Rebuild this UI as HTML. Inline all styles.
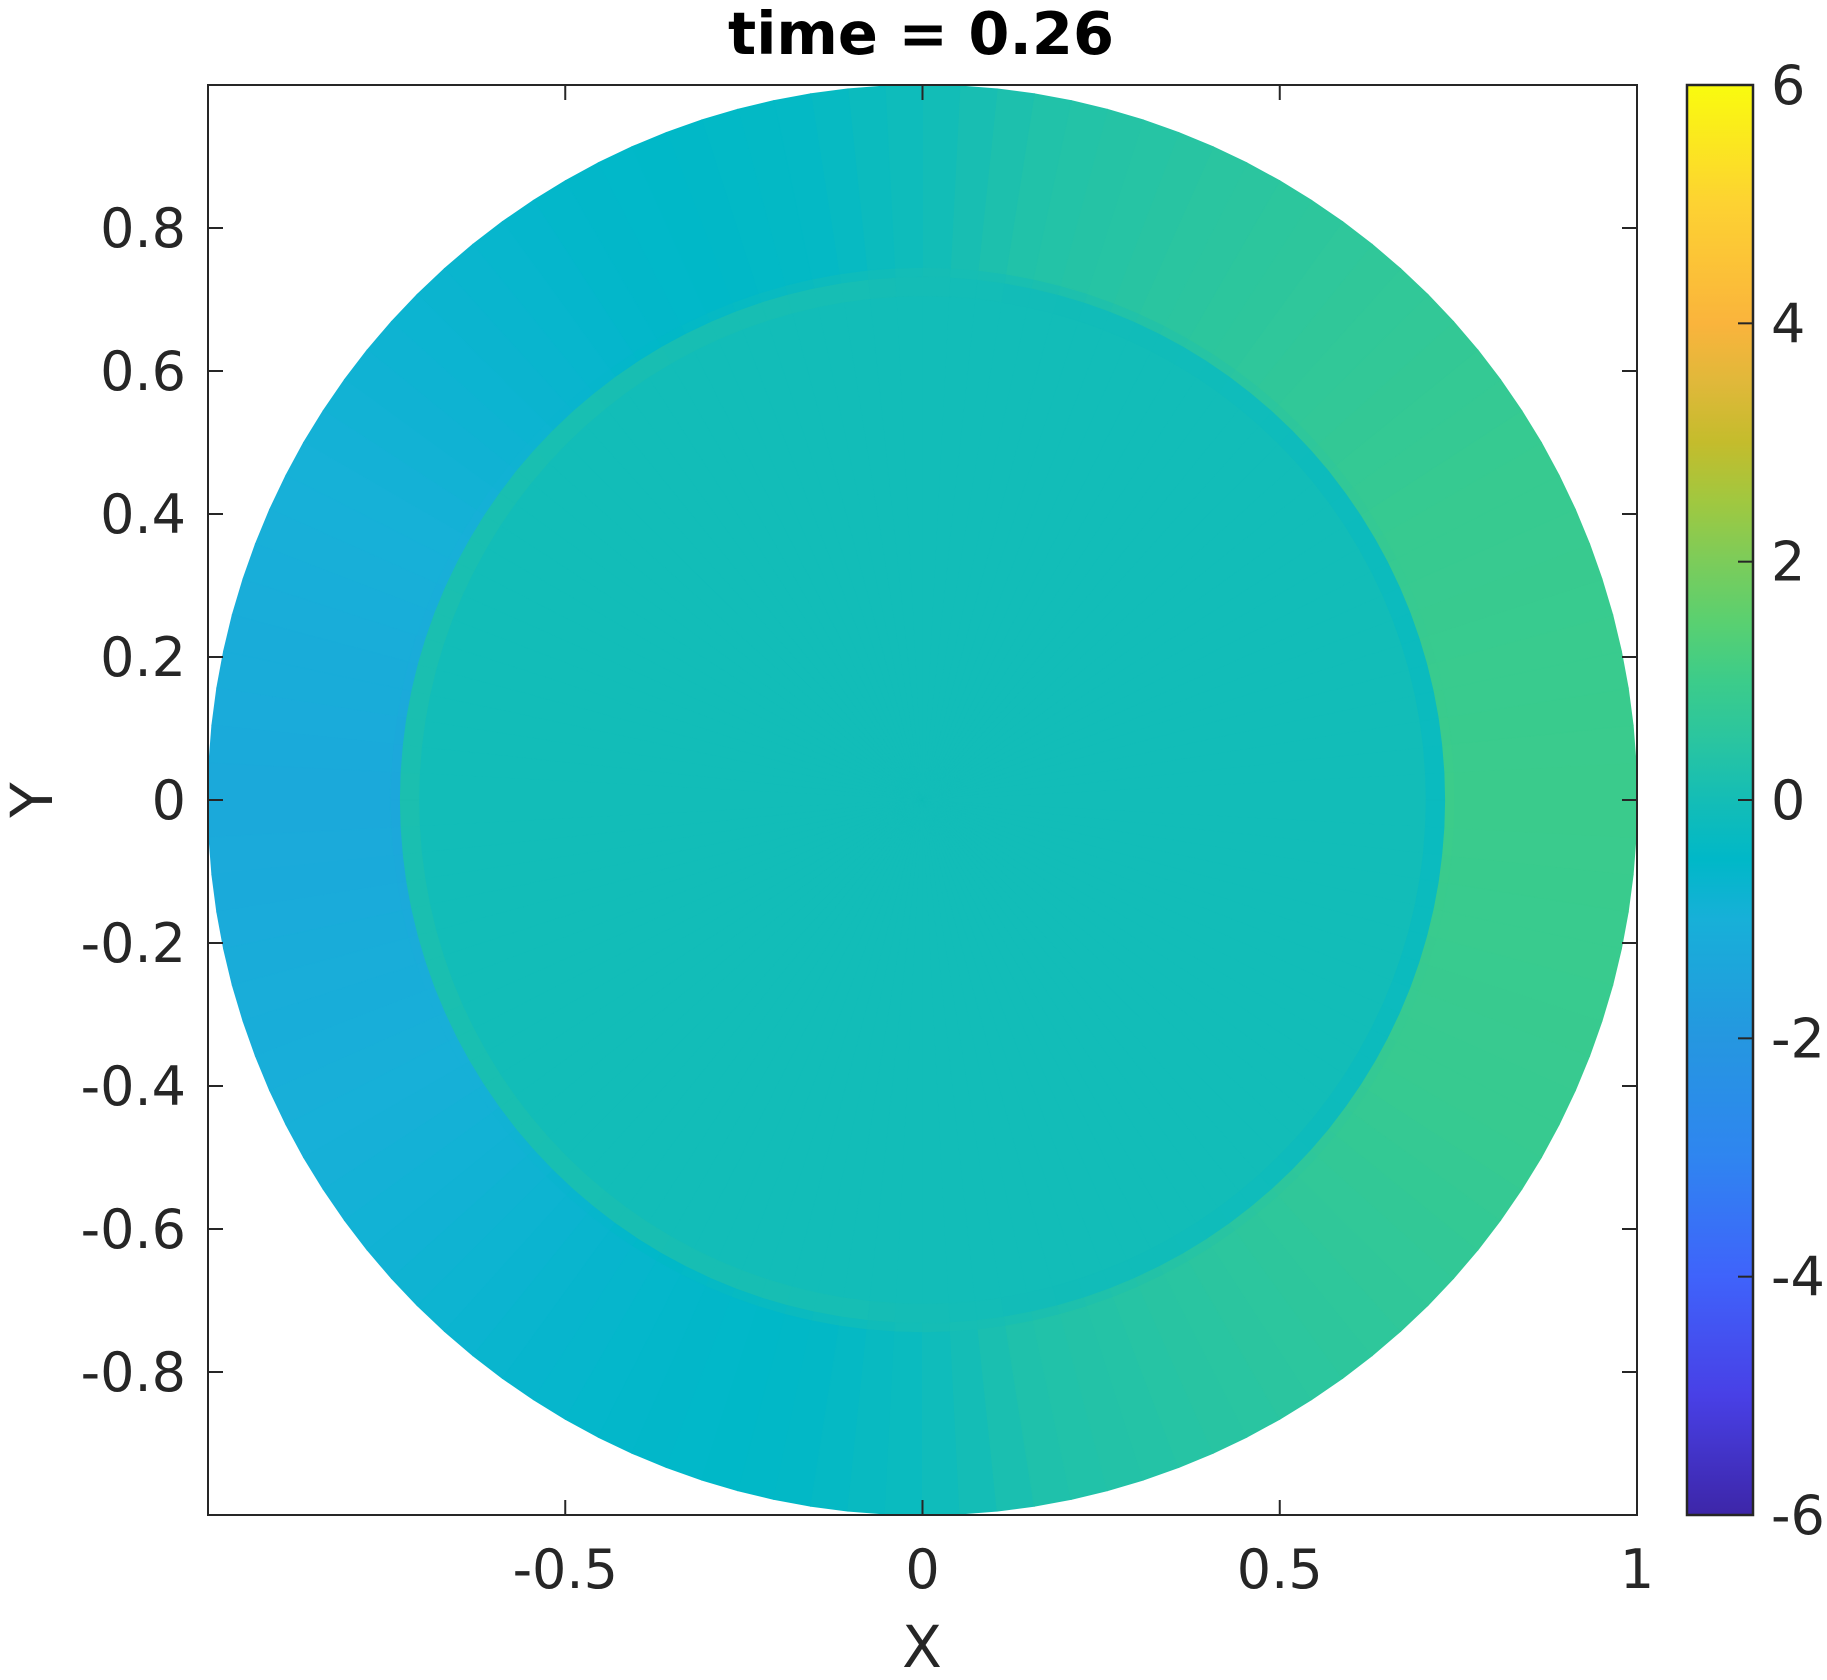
<!DOCTYPE html>
<html><head><meta charset="utf-8">
<style>
html,body{margin:0;padding:0;background:#fff;}
body{width:1827px;height:1675px;overflow:hidden;}
svg text{font-family:"DejaVu Sans","Liberation Sans",sans-serif;fill:#262626;}
</style></head>
<body>
<svg id="chart" width="1827" height="1675" viewBox="0 0 1827 1675" xmlns="http://www.w3.org/2000/svg">
<defs>
<linearGradient id="cbgrad" x1="0" y1="1" x2="0" y2="0"></linearGradient>
<clipPath id="axclip"><rect x="208" y="85" width="1429" height="1430"/></clipPath>
</defs>
<text x="921" y="54" text-anchor="middle" font-size="59" font-weight="bold" style="fill:#000">time = 0.26</text>
<g id="field" clip-path="url(#axclip)"></g>
<rect x="208" y="85" width="1429" height="1430" fill="none" stroke="#262626" stroke-width="2"/>
<g id="ticks"></g>
<text x="922" y="1667" text-anchor="middle" font-size="58">X</text>
<text x="52" y="800" text-anchor="middle" font-size="58" transform="rotate(-90 52 800)">Y</text>
<g id="colorbar"></g>
</svg>
<script>
// ---- data ----
const xTicks = [-0.5, 0, 0.5, 1];
const xTickLabels = ["-0.5", "0", "0.5", "1"];
const yTicks = [0.8, 0.6, 0.4, 0.2, 0, -0.2, -0.4, -0.6, -0.8];
const yTickLabels = ["0.8", "0.6", "0.4", "0.2", "0", "-0.2", "-0.4", "-0.6", "-0.8"];
const cbTicks = [6, 4, 2, 0, -2, -4, -6];
const cbTickLabels = ["6", "4", "2", "0", "-2", "-4", "-6"];
const cLim = [-6, 6];
// colormap (value -> colour)
const cmapVals = [-6, -5, -4, -3, -2, -1, -0.5, 0, 0.5, 1, 1.5, 2, 2.5, 3, 3.5, 4, 5, 6];
const cmapCols = ["#3d26a8","#4840e6","#3f63fb","#2f85f0","#2597e0","#17b0d8","#00b8c8","#14bdb6","#2ac5a0","#3ccc8a","#5ad070","#7ccc5a","#a0c840","#c4bc2c","#e0b83a","#fab43c","#fdd232","#f9fb0e"];
// field: angles (deg, ccw from +x) and per-band values
const angles = [0, 30, 60, 80, 90, 100, 120, 150, 180, 210, 240, 260, 270, 280, 300, 330, 360];
const outerVals = [0.95, 0.85, 0.55, 0.3, -0.1, -0.4, -0.55, -0.95, -1.3, -1.0, -0.6, -0.45, -0.2, 0.25, 0.5, 0.85, 0.95];
const edgeLineVals = [1.0, 0.8, 0.4, 0.1, 0.0, -0.2, -0.5, -1.0, -1.4, -1.0, -0.5, -0.2, 0.0, 0.1, 0.4, 0.8, 1.0];
const edgeBandVals = [-0.25, -0.2, -0.1, -0.05, 0.0, 0.05, 0.08, 0.12, 0.15, 0.12, 0.08, 0.05, 0.0, -0.05, -0.1, -0.2, -0.25];
const innerVals = [-0.05, -0.05, -0.05, -0.05, -0.05, -0.05, -0.05, -0.05, -0.05, -0.05, -0.05, -0.05, -0.05, -0.05, -0.05, -0.05, -0.05];
const bandRadii = [[0, 0.705], [0.705, 0.732], [0.732, 0.745], [0.745, 1.0]];
const bandData = [innerVals, edgeBandVals, edgeLineVals, outerVals];

// ---- axes ----
const X0 = 208, X1 = 1637, Y0 = 85, Y1 = 1515;
const xs = v => X0 + (v + 1) / 2 * (X1 - X0);
const ys = v => Y1 - (v + 1) / 2 * (Y1 - Y0);
const NS = "http://www.w3.org/2000/svg";
function mk(tag, attrs, parent) {
  const e = document.createElementNS(NS, tag);
  for (const k in attrs) e.setAttribute(k, attrs[k]);
  parent.appendChild(e);
  return e;
}
function hex2rgb(h) { return [1,3,5].map(i => parseInt(h.substr(i, 2), 16)); }
function colorOf(v) {
  if (v <= cmapVals[0]) return cmapCols[0];
  for (let i = 0; i < cmapVals.length - 1; i++) {
    if (v <= cmapVals[i + 1]) {
      const t = (v - cmapVals[i]) / (cmapVals[i + 1] - cmapVals[i]);
      const a = hex2rgb(cmapCols[i]), b = hex2rgb(cmapCols[i + 1]);
      return "rgb(" + a.map((c, j) => Math.round(c + (b[j] - c) * t)).join(",") + ")";
    }
  }
  return cmapCols[cmapCols.length - 1];
}
function interpAngle(arr, deg) {
  for (let i = 0; i < angles.length - 1; i++) {
    if (deg <= angles[i + 1]) {
      const t = (deg - angles[i]) / (angles[i + 1] - angles[i]);
      return arr[i] + (arr[i + 1] - arr[i]) * t;
    }
  }
  return arr[arr.length - 1];
}

// ---- field ----
const field = document.getElementById("field");
const STEP = 3;
bandData.forEach((vals, bi) => {
  const [r0, r1] = bandRadii[bi];
  for (let a = 0; a < 360; a += STEP) {
    const a0 = a * Math.PI / 180, a1 = (a + STEP) * Math.PI / 180;
    const v = interpAngle(vals, a + STEP / 2);
    const col = colorOf(v);
    const p = [
      [xs(r0 * Math.cos(a0)), ys(r0 * Math.sin(a0))],
      [xs(r1 * Math.cos(a0)), ys(r1 * Math.sin(a0))],
      [xs(r1 * Math.cos(a1)), ys(r1 * Math.sin(a1))],
      [xs(r0 * Math.cos(a1)), ys(r0 * Math.sin(a1))]
    ];
    const cell = mk("path", {
      d: "M" + p.map(q => q[0].toFixed(1) + "," + q[1].toFixed(1)).join("L") + "Z",
      fill: col, stroke: col, "stroke-width": bi === 3 ? 1 : 0.8
    }, field);
    
    
  }
});

// ---- ticks ----
const tg = document.getElementById("ticks");
const TL = 15;
xTicks.forEach((t, i) => {
  const x = xs(t);
  mk("line", {x1: x, y1: Y1, x2: x, y2: Y1 - TL, stroke: "#262626", "stroke-width": 2}, tg);
  mk("line", {x1: x, y1: Y0, x2: x, y2: Y0 + TL, stroke: "#262626", "stroke-width": 2}, tg);
  const tx = mk("text", {x: x, y: 1588, "text-anchor": "middle", "font-size": 54}, tg);
  tx.textContent = xTickLabels[i];
  
  
});
yTicks.forEach((t, i) => {
  const y = ys(t);
  mk("line", {x1: X0, y1: y, x2: X0 + TL, y2: y, stroke: "#262626", "stroke-width": 2}, tg);
  mk("line", {x1: X1, y1: y, x2: X1 - TL, y2: y, stroke: "#262626", "stroke-width": 2}, tg);
  const tx = mk("text", {x: 186, y: y + 19, "text-anchor": "end", "font-size": 54}, tg);
  tx.textContent = yTickLabels[i];
  
  
});

// ---- colorbar ----
const CX0 = 1687, CX1 = 1753;
const cs = v => Y1 - (v - cLim[0]) / (cLim[1] - cLim[0]) * (Y1 - Y0);
const grad = document.getElementById("cbgrad");
cmapVals.forEach((v, i) => {
  mk("stop", {offset: ((v - cLim[0]) / (cLim[1] - cLim[0])).toFixed(4), "stop-color": cmapCols[i]}, grad);
});
const cb = document.getElementById("colorbar");
const cbr = mk("rect", {x: CX0, y: Y0, width: CX1 - CX0, height: Y1 - Y0, fill: "url(#cbgrad)", stroke: "#262626", "stroke-width": 2.5}, cb);


cbTicks.forEach((t, i) => {
  const y = cs(t);
  mk("line", {x1: CX1, y1: y, x2: CX1 - 15, y2: y, stroke: "#262626", "stroke-width": 2}, cb);
  const tx = mk("text", {x: 1771, y: y + 19, "text-anchor": "start", "font-size": 54}, cb);
  tx.textContent = cbTickLabels[i];
  
  
});
</script>
</body></html>
